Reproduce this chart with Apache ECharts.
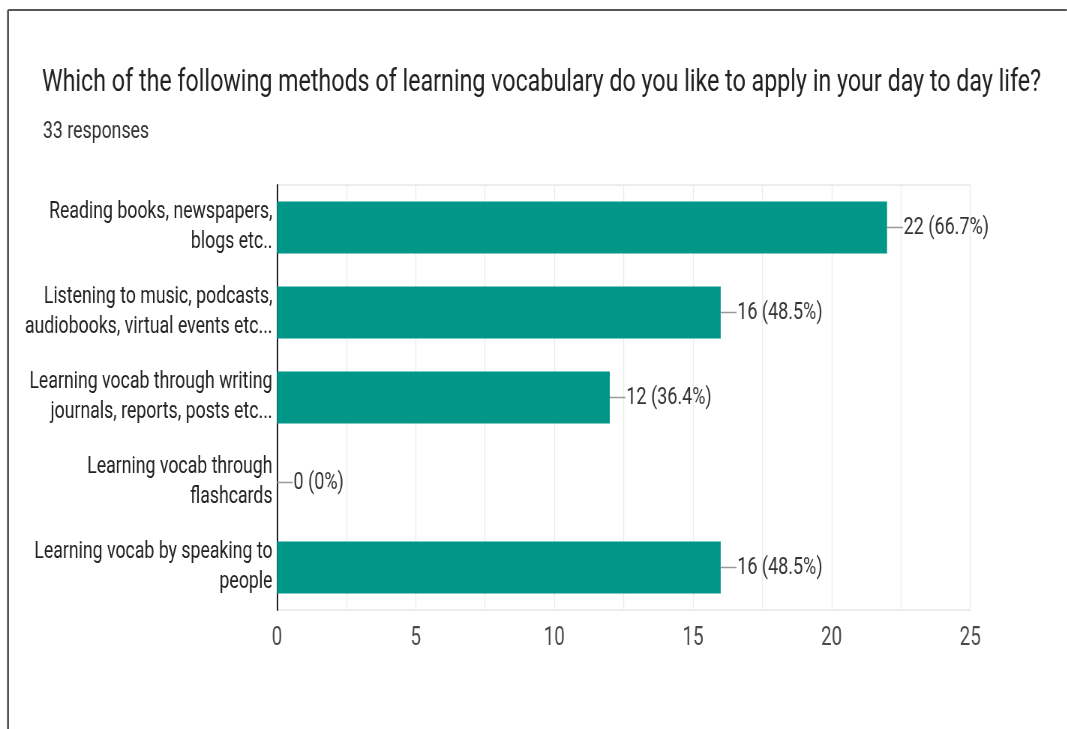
<!DOCTYPE html>
<html><head><meta charset="utf-8">
<script src="https://cdn.jsdelivr.net/npm/echarts@6/dist/echarts.min.js"></script>
<style>
html,body{margin:0;padding:0;background:#fff;overflow:hidden;width:1067px;height:729px;}
#c{width:1422.67px;height:729px;transform:scaleX(0.75);transform-origin:0 0;}
</style>
</head><body><div id="c"></div>
<script>
const categories = [
  "Reading books, newspapers,\nblogs etc..",
  "Listening to music, podcasts,\naudiobooks, virtual events etc...",
  "Learning vocab through writing\njournals, reports, posts etc...",
  "Learning vocab through\nflashcards",
  "Learning vocab by speaking to\npeople"
];
const counts = [22, 16, 12, 0, 16];
const percents = ["66.7%", "48.5%", "36.4%", "0%", "48.5%"];
const xTicks = [0, 5, 10, 15, 20, 25];

const S = 0.75; // horizontal condensation of the reference picture
const FONT = "Roboto, 'Liberation Sans', sans-serif";
const chart = echarts.init(document.getElementById('c'), null, {renderer: 'canvas'});
chart.setOption({
  animation: false,
  textStyle: {fontFamily: FONT},
  title: [{
    text: "Which of the following methods of learning vocabulary do you like to apply in your day to day life?",
    left: 42 / S, top: 68, padding: 0,
    textStyle: {fontFamily: FONT, fontSize: 31, fontWeight: 'normal', color: '#212121'}
  }, {
    text: "33 responses",
    left: 43 / S, top: 120, padding: 0,
    textStyle: {fontFamily: FONT, fontSize: 23.6, fontWeight: 'normal', color: '#333'}
  }],
  graphic: [
    {type: 'line', shape: {x1: 8 / S, y1: 10, x2: 1067 / S, y2: 10}, style: {stroke: '#555', lineWidth: 2}},
    {type: 'line', shape: {x1: 8 / S, y1: 10, x2: 8 / S, y2: 729}, style: {stroke: '#555', lineWidth: 2 / S}}
  ],
  grid: {left: 277 / S, right: (1067 - 970) / S, top: 185, bottom: 119, containLabel: false, show: true, borderColor: '#e8e8e8', borderWidth: 1.3},
  xAxis: {
    type: 'value', min: xTicks[0], max: xTicks[xTicks.length - 1], interval: 5,
    axisLine: {show: false}, axisTick: {show: false},
    axisLabel: {fontFamily: FONT, fontSize: 25, color: '#4a4a4a', margin: 16},
    splitLine: {show: true, lineStyle: {color: '#ebebeb', width: 1.3}},
    minorTick: {show: false, splitNumber: 2},
    minorSplitLine: {show: true, lineStyle: {color: '#ebebeb', width: 1.3}}
  },
  yAxis: {
    type: 'category', data: categories, inverse: true,
    axisLine: {show: true, lineStyle: {color: '#222', width: 2}},
    axisTick: {show: false},
    axisLabel: {fontFamily: FONT, fontSize: 23.6, color: '#222', margin: 6, lineHeight: 30, align: 'right'}
  },
  series: [{
    type: 'bar', data: counts, barWidth: '61%',
    itemStyle: {color: '#009688'},
    label: {
      show: true, position: 'right', distance: 0,
      formatter: p => '{l|}{t|' + counts[p.dataIndex] + ' (' + percents[p.dataIndex] + ')}',
      rich: {
        l: {width: 21, height: 1.5, backgroundColor: '#999'},
        t: {fontFamily: FONT, fontSize: 24, color: '#333', padding: [0, 0, 0, 1]}
      }
    }
  }]
});
</script></body></html>
